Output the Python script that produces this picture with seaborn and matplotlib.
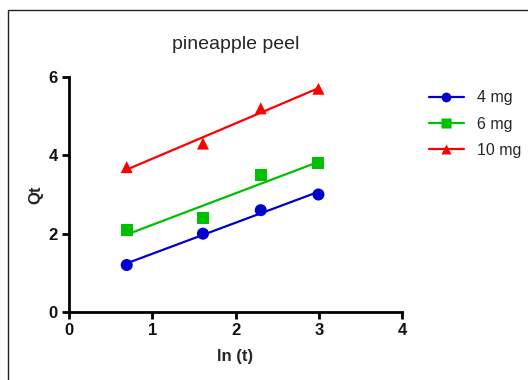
import numpy as np
import pandas as pd
import matplotlib
matplotlib.use("Agg")
import matplotlib.pyplot as plt
from matplotlib.lines import Line2D
from matplotlib.patches import Rectangle
import seaborn as sns

# ln(t) for t = 2, 5, 10, 20 min
ln_t = [0.693, 1.609, 2.303, 2.996]
qt_4mg = [1.2, 2.0, 2.6, 3.0]
qt_6mg = [2.1, 2.4, 3.5, 3.8]
qt_10mg = [3.7, 4.3, 5.2, 5.7]
doses = ["4 mg", "6 mg", "10 mg"]
x_ticks = [0, 1, 2, 3, 4]
y_ticks = [0, 2, 4, 6]

colors = {"4 mg": "#0000cc", "6 mg": "#00c000", "10 mg": "#ff0000"}
markers = {"4 mg": "o", "6 mg": "s", "10 mg": "^"}

df = pd.DataFrame({
    "ln_t": ln_t * 3,
    "Qt": qt_4mg + qt_6mg + qt_10mg,
    "dose": sum([[d] * len(ln_t) for d in doses], []),
})

sns.set_theme(style="ticks")
plt.rcParams["font.family"] = ["Liberation Sans", "DejaVu Sans"]

fig = plt.figure(figsize=(5.28, 3.8), dpi=100)
ax = fig.add_axes([0.1307, 0.1789, 0.6307, 0.6185])

for d in doses:
    sub = df[df["dose"] == d]
    sns.regplot(data=sub, x="ln_t", y="Qt", ax=ax, ci=None, scatter=False,
                color=colors[d], line_kws={"lw": 1.6})
    sns.scatterplot(data=sub, x="ln_t", y="Qt", ax=ax, color=colors[d],
                    marker=markers[d], s=75, edgecolor="none", legend=False,
                    zorder=3)

ax.set_xlim(0, 4)
ax.set_ylim(0, 6)
ax.set_xticks(x_ticks)
ax.set_yticks(y_ticks)
ax.set_xticklabels([str(v) for v in x_ticks], fontweight="bold", fontsize=12)
ax.set_yticklabels([str(v) for v in y_ticks], fontweight="bold", fontsize=12)
ax.set_xlabel("ln (t)", fontweight="bold", fontsize=12, labelpad=8)
ax.set_ylabel("Qt", fontweight="bold", fontsize=12, labelpad=4)
ax.set_title("pineapple peel", fontsize=14, pad=20)

sns.despine(ax=ax)
for s in ("left", "bottom"):
    ax.spines[s].set_linewidth(2)
    ax.spines[s].set_color("black")
ax.tick_params(axis="both", width=2, length=5, color="black", pad=3,
               labelcolor="#111111")

handles = [Line2D([0], [0], color=colors[d], marker=markers[d], lw=1.6,
                  markersize=7, markeredgecolor="none") for d in doses]
fig.legend(handles, doses, loc="upper left", bbox_to_anchor=(0.785, 0.80),
           frameon=False, fontsize=11.5, handlelength=2.2, labelspacing=0.7,
           handletextpad=0.8)

# outer panel border
fig.patches.append(Rectangle((8 / 528, -0.05), 1.0, 1 - 10 / 380 + 0.05,
                             transform=fig.transFigure, fill=False,
                             edgecolor="#222222", lw=1))

fig.savefig("out.png", dpi=100)
